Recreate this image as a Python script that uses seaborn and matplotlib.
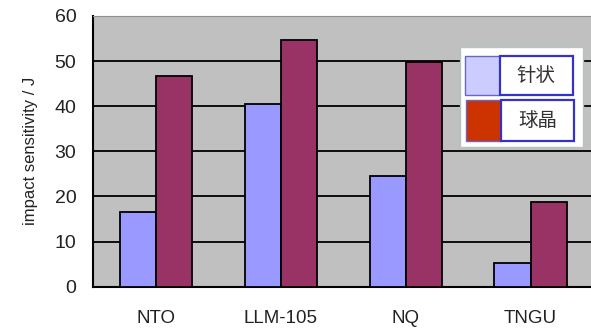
import pandas as pd
import numpy as np
import matplotlib
matplotlib.use('Agg')
import matplotlib.pyplot as plt
from matplotlib.patches import Rectangle
import seaborn as sns

# values
compounds = ['NTO', 'LLM-105', 'NQ', 'TNGU']
needle = [16.6, 40.4, 24.5, 5.2]      # 针状
sphere = [46.7, 54.7, 49.7, 18.8]     # 球晶
series_names = ['针状', '球晶']
y_ticks = [0, 10, 20, 30, 40, 50, 60]

sns.set_style('white')
plt.rcParams['font.family'] = ['Liberation Sans', 'Noto Sans CJK SC', 'DejaVu Sans']

data = pd.DataFrame({
    'compound': compounds * 2,
    'morph': [series_names[0]] * len(compounds) + [series_names[1]] * len(compounds),
    'value': needle + sphere,
})

fig = plt.figure(figsize=(5.91, 3.28), dpi=100)
ax = fig.add_axes([93 / 591, 1 - 286.7 / 328, 500 / 591, (286.7 - 16) / 328])
ax.set_facecolor('#C0C0C0')

sns.barplot(data=data, x='compound', y='value', hue='morph', ax=ax,
            palette={series_names[0]: '#9999FF', series_names[1]: '#993366'},
            saturation=1, width=0.576, edgecolor='black', linewidth=1.3,
            legend=False, zorder=3, errorbar=None)

ax.set_ylim(0, 60)
ax.set_xlim(-0.5, 3.5)
ax.set_yticks(y_ticks)
ax.yaxis.grid(True, color='black', linewidth=1.3, zorder=0)
ax.set_axisbelow(True)
ax.set_xlabel('')
ax.set_ylabel('impact sensitivity / J', fontsize=12, color='#222222', labelpad=12)
ax.tick_params(axis='y', length=0, pad=12, labelsize=14, colors='#222222')
ax.tick_params(axis='x', length=0, pad=17, labelsize=13.5, colors='#222222')
ax.set_xticks([0.5, 1.5, 2.5], minor=True)
ax.tick_params(axis='x', which='minor', direction='in', length=5, width=1.2, color='black')

for side in ['left', 'bottom']:
    ax.spines[side].set_color('black')
    ax.spines[side].set_linewidth(1.5)
ax.spines['top'].set_color('#909090')
ax.spines['right'].set_visible(False)

# legend drawn as boxes, like the original
def px(x, y, w, h):
    return (x / 591, 1 - (y + h) / 328, w / 591, h / 328)

x0, y0, w0, h0 = px(460, 47, 123, 100)
fig.patches.append(Rectangle((x0, y0), w0, h0, transform=fig.transFigure,
                             facecolor='white', edgecolor='#B8C4C4', linewidth=1, zorder=5))
legend_rows = [
    (series_names[0], '#CCCCFF', 464.5, 56, 39),
    (series_names[1], '#CC3300', 466, 100, 41),
]
for label, color, lx, ly, lh in legend_rows:
    a, b, c, d = px(lx, ly, 35, lh)
    fig.patches.append(Rectangle((a, b), c, d, transform=fig.transFigure,
                                 facecolor=color, edgecolor='#6666CC', linewidth=1, zorder=6))
    a, b, c, d = px(lx + 35, ly, 73, lh)
    fig.patches.append(Rectangle((a, b), c, d, transform=fig.transFigure,
                                 facecolor='white', edgecolor='#3333CC', linewidth=1.6, zorder=6))
    fig.text(a + c / 2, b + d / 2, label, ha='center', va='center', fontsize=14,
             color='#333333', family=['Noto Sans CJK SC', 'DejaVu Sans'], zorder=7)

fig.savefig('out.png', dpi=100)
